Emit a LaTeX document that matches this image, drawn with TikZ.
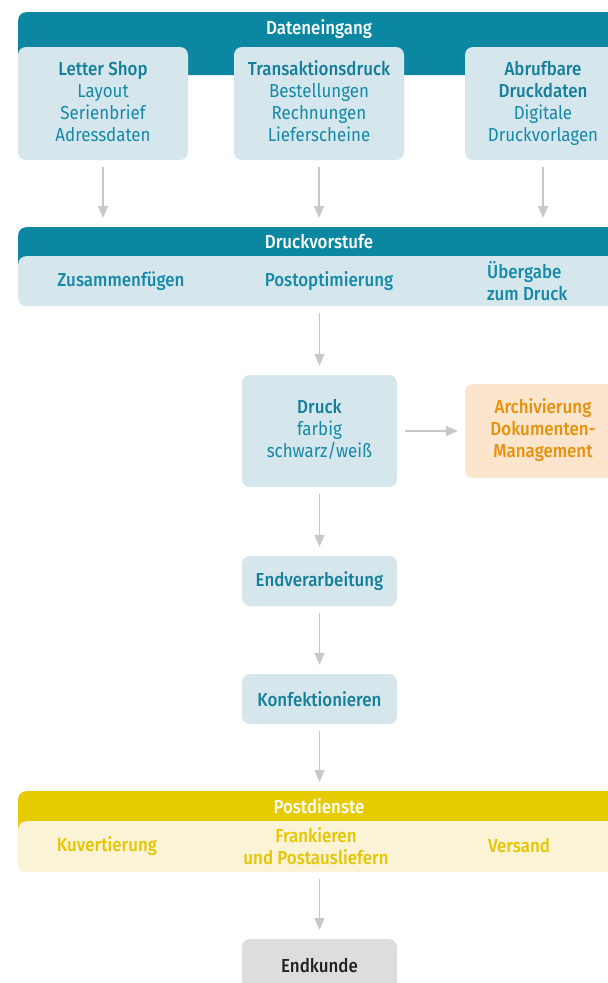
\documentclass[tikz,border=0pt]{standalone}
\usepackage{fontspec}
\setmainfont{Fira Sans}[FakeStretch=0.9, BoldFont={Fira Sans Medium}]
\usetikzlibrary{arrows.meta}
\definecolor{cband}{HTML}{0B87A1}
\definecolor{clight}{HTML}{D6E6ED}
\definecolor{ctext}{HTML}{1489A8}
\definecolor{ctitle}{HTML}{147F9A}
\definecolor{corfill}{HTML}{FBE5CC}
\definecolor{cortext}{HTML}{E8900A}
\definecolor{cyband}{HTML}{E6CB00}
\definecolor{cylight}{HTML}{FBF3D5}
\definecolor{cytext}{HTML}{E6C400}
\definecolor{cgray}{HTML}{DCDDDE}
\definecolor{carrow}{HTML}{C8C8C8}
\newcommand{\fsz}{\fontsize{18.8}{22}\selectfont}
\begin{document}
\begin{tikzpicture}[x=1pt,y=-1pt,
  band/.style={fill=#1, rounded corners=8pt, inner sep=0pt, anchor=north west, minimum width=612pt},
  bandtext/.style={text=white, font=\fsz\bfseries, inner sep=0pt},
  lbox/.style={fill=#1, rounded corners=8pt, inner sep=0pt, align=center, font=\fsz},
  btxt/.style={font=\fsz\bfseries, inner sep=0pt, align=#1},
  arr/.style={draw=carrow, line width=1.3pt, -{Triangle[width=10pt,length=12pt]}, shorten <=7pt, shorten >=9pt}
]
\useasboundingbox (0,0) rectangle (608,983);
\fill[white] (0,0) rectangle (608,983);

% Dateneingang
\node[band=cband, minimum height=63pt] (dat) at (18,12) {};
\node[bandtext] (datl) at (319,29) {Dateneingang};
\node[lbox=clight, minimum width=170pt, minimum height=113pt, text=ctext] (ls) at (103,103.5)
  {{\bfseries\color{ctitle}Letter Shop}\\Layout\\Serienbrief\\Adressdaten\rule[-5pt]{0pt}{0pt}};
\node[lbox=clight, minimum width=170pt, minimum height=113pt, text=ctext] (td) at (319,103.5)
  {{\bfseries\color{ctitle}Transaktionsdruck}\\Bestellungen\\Rechnungen\\Lieferscheine\rule[-5pt]{0pt}{0pt}};
\node[lbox=clight, minimum width=156pt, minimum height=113pt, text=ctext] (ab) at (543,103.5)
  {{\bfseries\color{ctitle}Abrufbare}\\{\bfseries\color{ctitle}Druckdaten}\\Digitale\\Druckvorlagen\rule[-5pt]{0pt}{0pt}};

% Druckvorstufe
\node[band=cband, minimum height=45pt] (dv) at (18,227) {};
\node[bandtext] (dvl) at (319,242) {Druckvorstufe};
\node[band=clight, minimum height=50pt] (dvbox) at (18,256) {};
\node[btxt=center, text=ctext] (zus) at (121,281) {Zusammenfügen};
\node[btxt=center, text=ctext] (post) at (329,281) {Postoptimierung};
\node[btxt=left, text=ctext, anchor=west] (ueb) at (487,281) {Übergabe\\zum Druck};

% Druck
\node[lbox=clight, minimum width=155pt, minimum height=112pt, text=ctext] (dr) at (319.5,431)
  {{\bfseries\color{ctitle}Druck}\\farbig\\schwarz/weiß\rule[-5pt]{0pt}{0pt}};
\node[lbox=corfill, minimum width=156pt, minimum height=94pt, text=cortext, font=\fsz\bfseries] (ar) at (543,431)
  {Archivierung\\Dokumenten-\\Management\rule[-5pt]{0pt}{0pt}};

\node[lbox=clight, minimum width=155pt, minimum height=50pt, text=ctitle, font=\fsz\bfseries] (ev) at (319.5,581) {Endverarbeitung};
\node[lbox=clight, minimum width=155pt, minimum height=50pt, text=ctitle, font=\fsz\bfseries] (kf) at (319.5,699) {Konfektionieren};

% Postdienste
\node[band=cyband, minimum height=45pt] (pd) at (18,791) {};
\node[bandtext] (pdl) at (319,806) {Postdienste};
\node[band=cylight, minimum height=51pt] (pdbox) at (18,821) {};
\node[btxt=center, text=cytext] (ku) at (107,846) {Kuvertierung};
\node[btxt=center, text=cytext] (fr) at (316,846) {Frankieren\\und Postausliefern};
\node[btxt=center, text=cytext] (ve) at (519,846) {Versand};

\node[lbox=cgray, minimum width=155pt, minimum height=52pt, anchor=north, text=black!87, font=\fsz\bfseries] (ek) at (319.5,939) {Endkunde};

% arrows
\draw[arr] (ls.south) -- (ls.south |- dv.north);
\draw[arr] (td.south) -- (td.south |- dv.north);
\draw[arr] (ab.south) -- (ab.south |- dv.north);
\draw[arr] (dr.north |- dvbox.south) -- (dr.north);
\draw[arr, shorten <=8pt, shorten >=7pt] (dr.east) -- (ar.west);
\draw[arr] (dr.south) -- (ev.north);
\draw[arr] (ev.south) -- (kf.north);
\draw[arr] (kf.south) -- (kf.south |- pd.north);
\draw[arr] (ek.north |- pdbox.south) -- (ek.north);
\end{tikzpicture}
\end{document}
